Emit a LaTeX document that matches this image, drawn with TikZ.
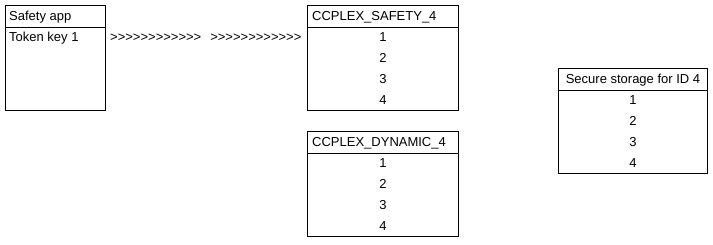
\documentclass[tikz,border=0pt]{standalone}
\usepackage{fontspec}
\setmainfont{Liberation Sans}
\usetikzlibrary{positioning}

\begin{document}
\begin{tikzpicture}[x=1pt, y=-1pt,
	every node/.style={font=\fontsize{13}{15}\selectfont, inner sep=0pt},
	tbl/.style={draw, line width=1pt, anchor=north west, minimum height=105pt}]
	\useasboundingbox (0,0) rectangle (713,244);
	% tables
	\node[tbl, minimum width=100pt] (app) at (5,5) {};
	\node[tbl, minimum width=151pt] (safe) at (307,5) {};
	\node[tbl, minimum width=151pt] (dyn) at (307,131) {};
	\node[tbl, minimum width=149pt] (sec) at (558,68) {};
	\foreach \t in {app,safe,dyn,sec} {\draw[line width=1pt] ([yshift=-22pt]\t.north west) -- ([yshift=-22pt]\t.north east);}
	% headers
	\node[anchor=base west] (app-h) at ([xshift=4pt,yshift=-15.5pt]app.north west) {Safety app};
	\node[anchor=base west] (safe-h) at ([xshift=5pt,yshift=-15.5pt]safe.north west) {CCPLEX\_SAFETY\_4};
	\node[anchor=base west] (dyn-h) at ([xshift=5pt,yshift=-15.5pt]dyn.north west) {CCPLEX\_DYNAMIC\_4};
	\node[anchor=base] (sec-h) at ([yshift=-15.5pt]sec.north) {Secure storage for ID 4};
	% rows
	\node[anchor=base west] (app-1) at ([xshift=4pt,yshift=-36.5pt]app.north west) {Token key 1};
	\foreach \t in {safe,dyn,sec} {
		\foreach \i in {1,...,4} {\node[anchor=base] (\t-\i) at ([yshift={-15.5pt-21pt*\i}]\t.north) {\i};}
	}
	\node[anchor=base west, xshift=4pt] (pass) at (app-1.base -| app.east)
		{>{}>{}>{}>{}>{}>{}>{}>{}>{}>{}>{}>\hspace{9pt}>{}>{}>{}>{}>{}>{}>{}>{}>{}>{}>{}>};
\end{tikzpicture}
\end{document}
